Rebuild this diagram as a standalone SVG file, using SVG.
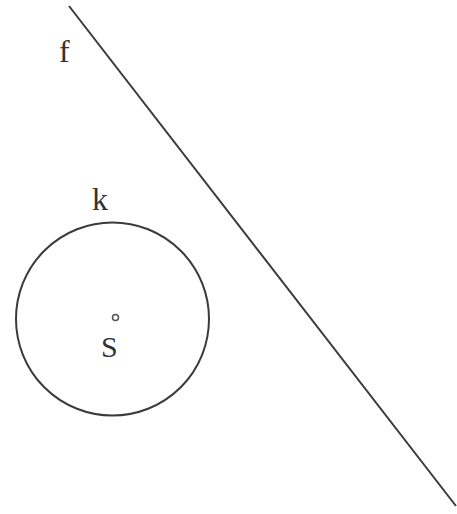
<svg xmlns="http://www.w3.org/2000/svg" width="457" height="514" viewBox="0 0 457 514">
<style>
.ln{fill:none;stroke:#3a3a3a;stroke-width:2}
.lb{font-family:"Liberation Serif","DejaVu Serif",serif;fill:#333}
</style>
<rect width="457" height="514" fill="#ffffff"/>
<g id="line-f">
<line class="ln" x1="69" y1="6" x2="456" y2="506"/>
<text class="lb" x="59" y="62" font-size="32">f</text>
</g>
<g id="circle-k">
<circle class="ln" cx="112.5" cy="319" r="96.5"/>
<text class="lb" x="92" y="210" font-size="32">k</text>
</g>
<g id="point-S">
<circle cx="115.5" cy="317.5" r="3" fill="none" stroke="#555" stroke-width="1.5"/>
<text class="lb" x="101" y="357" font-size="30">S</text>
</g>
</svg>
